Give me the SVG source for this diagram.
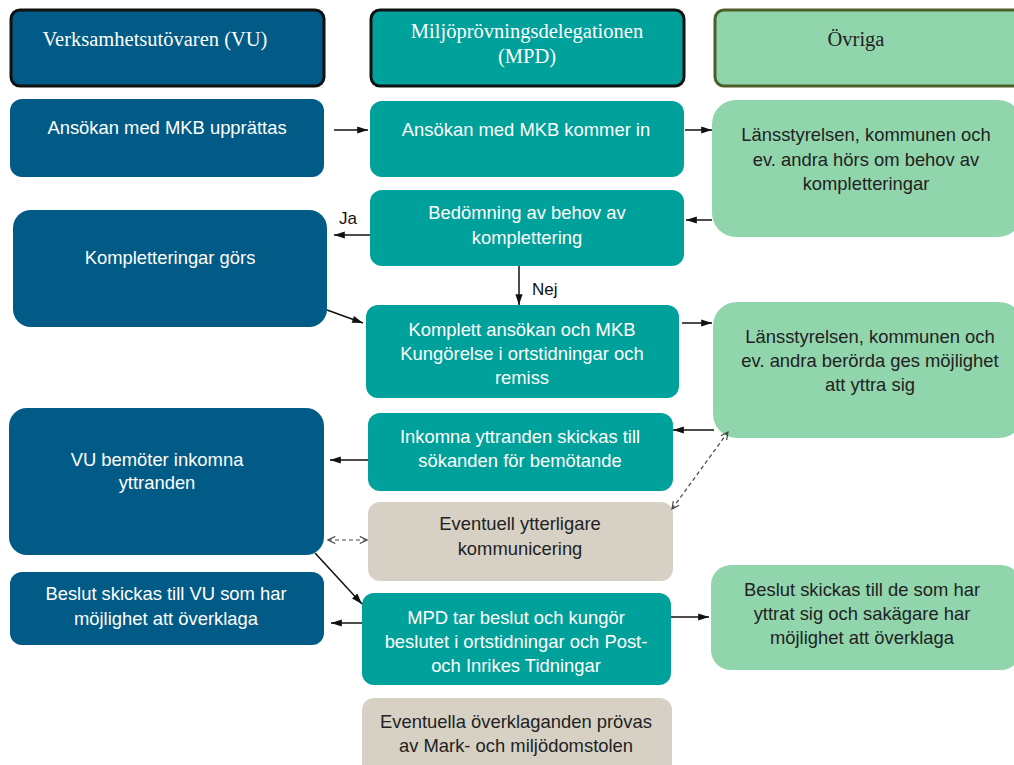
<svg xmlns="http://www.w3.org/2000/svg" width="1014" height="765" viewBox="0 0 1014 765">
<defs>
<style>
.hd{stroke:#111;stroke-width:3}
.blue{fill:#015b86}
.teal{fill:#00a19a}
.green{fill:#91d5ac}
.beige{fill:#d6d1c4}
.ht{font-family:"Liberation Serif",serif;font-size:20.5px;fill:#fff;text-anchor:middle}
.w{font-family:"Liberation Sans",Arial,sans-serif;font-size:18.4px;fill:#fff;text-anchor:middle}
.d{font-family:"Liberation Sans",Arial,sans-serif;font-size:18.4px;fill:#222;text-anchor:middle}
.lb{font-family:"Liberation Sans",Arial,sans-serif;font-size:17px;fill:#111}
.c{stroke:#111;stroke-width:1.5;fill:none}
.dash{stroke:#444;stroke-width:1.2;fill:none;stroke-dasharray:4 3}
</style>
<marker id="ah" viewBox="0 0 12 10" refX="12" refY="5" markerWidth="12" markerHeight="9" markerUnits="userSpaceOnUse" orient="auto">
<path d="M0,1 L12,5 L0,9 z" fill="#111"/>
</marker>
<marker id="oh" viewBox="0 0 10 10" refX="9" refY="5" markerWidth="9" markerHeight="9" markerUnits="userSpaceOnUse" orient="auto-start-reverse">
<path d="M1,1 L9,5 L1,9" fill="none" stroke="#444" stroke-width="1.3"/>
</marker>
</defs>
<rect width="1014" height="765" fill="#fff"/>

<g id="header-vu"><rect class="hd blue" x="11" y="10" width="313" height="76" rx="9"/><text class="ht" x="155" y="46">Verksamhetsutövaren (VU)</text></g>
<g id="header-mpd"><rect class="hd teal" x="371" y="10" width="313" height="76" rx="9"/><text class="ht" x="527" y="38">Miljöprövningsdelegationen</text><text class="ht" x="527" y="63">(MPD)</text></g>
<g id="header-ovriga"><rect x="715" y="10" width="310" height="76" rx="9" fill="#91d5ac" stroke="#4d5f2c" stroke-width="3"/><text class="ht" x="856" y="46" style="fill:#222">Övriga</text></g>

<g id="vu1"><rect class="blue" x="10" y="99" width="314" height="78" rx="12"/><text class="w" x="167" y="134">Ansökan med MKB upprättas</text></g>
<g id="vu2"><rect class="blue" x="13" y="210" width="314" height="117" rx="18"/><text class="w" x="170" y="264">Kompletteringar görs</text></g>
<g id="vu3"><rect class="blue" x="9" y="408" width="315" height="147" rx="18"/><text class="w" x="157" y="466">VU bemöter inkomna</text><text class="w" x="157" y="489">yttranden</text></g>
<g id="vu4"><rect class="blue" x="10" y="572" width="314" height="73" rx="12"/><text class="w" x="166" y="600">Beslut skickas till VU som har</text><text class="w" x="166" y="625">möjlighet att överklaga</text></g>

<g id="mpd1"><rect class="teal" x="370" y="101" width="314" height="76" rx="12"/><text class="w" x="526" y="136">Ansökan med MKB kommer in</text></g>
<g id="mpd2"><rect class="teal" x="370" y="190" width="314" height="76" rx="12"/><text class="w" x="527" y="219">Bedömning av behov av</text><text class="w" x="527" y="244">komplettering</text></g>
<g id="mpd3"><rect class="teal" x="366" y="305" width="313" height="93" rx="12"/><text class="w" x="522" y="336">Komplett ansökan och MKB</text><text class="w" x="522" y="360">Kungörelse i ortstidningar och</text><text class="w" x="522" y="384">remiss</text></g>
<g id="mpd4"><rect class="teal" x="368" y="413" width="305" height="78" rx="12"/><text class="w" x="520" y="443">Inkomna yttranden skickas till</text><text class="w" x="520" y="467">sökanden för bemötande</text></g>
<g id="mpd5"><rect class="beige" x="368" y="502" width="305" height="79" rx="12"/><text class="d" x="520" y="530">Eventuell ytterligare</text><text class="d" x="520" y="555">kommunicering</text></g>
<g id="mpd6"><rect class="teal" x="362" y="593" width="309" height="92" rx="12"/><text class="w" x="516" y="624">MPD tar beslut och kungör</text><text class="w" x="516" y="648">beslutet i ortstidningar och Post-</text><text class="w" x="516" y="672">och Inrikes Tidningar</text></g>
<g id="mpd7"><rect class="beige" x="362" y="698" width="310" height="80" rx="12"/><text class="d" x="516" y="728">Eventuella överklaganden prövas</text><text class="d" x="516" y="752">av Mark- och miljödomstolen</text></g>

<g id="ov1"><rect class="green" x="712" y="100" width="310" height="137" rx="24"/><text class="d" x="866" y="141">Länsstyrelsen, kommunen och</text><text class="d" x="866" y="166">ev. andra hörs om behov av</text><text class="d" x="866" y="190">kompletteringar</text></g>
<g id="ov2"><rect class="green" x="713" y="302" width="310" height="136" rx="24"/><text class="d" x="870" y="343">Länsstyrelsen, kommunen och</text><text class="d" x="870" y="367">ev. andra berörda ges möjlighet</text><text class="d" x="870" y="391">att yttra sig</text></g>
<g id="ov3"><rect class="green" x="711" y="565" width="310" height="105" rx="20"/><text class="d" x="862" y="596">Beslut skickas till de som har</text><text class="d" x="862" y="620">yttrat sig och sakägare har</text><text class="d" x="862" y="644">möjlighet att överklaga</text></g>

<g id="connectors">
<line class="c" x1="334" y1="130" x2="368" y2="130" marker-end="url(#ah)"/>
<line class="c" x1="685" y1="130" x2="712" y2="130" marker-end="url(#ah)"/>
<line class="c" x1="712" y1="220" x2="686" y2="220" marker-end="url(#ah)"/>
<line class="c" x1="370" y1="235" x2="334" y2="235" marker-end="url(#ah)"/>
<text class="lb" x="339" y="224">Ja</text>
<line class="c" x1="519" y1="266" x2="519" y2="305" marker-end="url(#ah)"/>
<text class="lb" x="532" y="295">Nej</text>
<line class="c" x1="327" y1="310" x2="363" y2="323" marker-end="url(#ah)"/>
<line class="c" x1="682" y1="323" x2="712" y2="323" marker-end="url(#ah)"/>
<line class="c" x1="714" y1="430" x2="673" y2="430" marker-end="url(#ah)"/>
<line class="c" x1="368" y1="460" x2="330" y2="460" marker-end="url(#ah)"/>
<line class="dash" x1="728" y1="432" x2="672" y2="509" marker-start="url(#oh)" marker-end="url(#oh)"/>
<line class="dash" x1="328" y1="540" x2="367" y2="540" marker-start="url(#oh)" marker-end="url(#oh)"/>
<line class="c" x1="315" y1="553" x2="362" y2="604" marker-end="url(#ah)"/>
<line class="c" x1="362" y1="623" x2="331" y2="623" marker-end="url(#ah)"/>
<line class="c" x1="671" y1="617" x2="709" y2="617" marker-end="url(#ah)"/>
</g>
</svg>
